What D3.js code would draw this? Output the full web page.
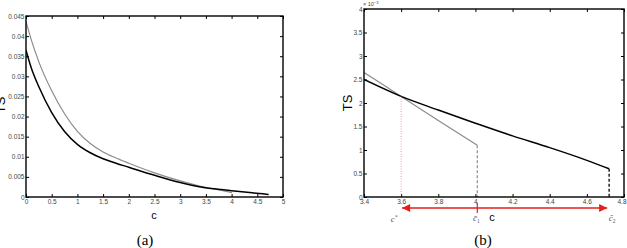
<!DOCTYPE html>
<html>
<head>
<meta charset="utf-8">
<script src="https://cdn.jsdelivr.net/npm/d3@7"></script>
<style>
  body { margin: 0; background: #fff; }
  svg { display: block; }
  .tick text { font-family: "Liberation Sans", Arial, sans-serif; font-size: 6.5px; fill: #444; }
  .tick line { stroke: #000; }
  .domain { stroke: none; }
</style>
</head>
<body>
<svg id="chart" width="627" height="248"></svg>
<script>
// series (TS against c)
const cBlack = [0, 0.1, 0.25, 0.5, 0.75, 1, 1.25, 1.5, 1.75, 2, 2.5, 3, 3.4, 3.6, 3.8, 4, 4.2, 4.4, 4.6, 4.72];
const tsBlack = [0.0365, 0.0322, 0.0274, 0.021, 0.0163, 0.0131, 0.011, 0.0095, 0.0084, 0.0074, 0.0054, 0.0036,
  0.0025, 0.00214, 0.00185, 0.00157, 0.0013, 0.00105, 0.00078, 0.0006];
const cGray = [0, 0.1, 0.25, 0.5, 0.75, 1, 1.25, 1.5, 1.75, 2, 2.5, 3, 3.4, 3.6, 3.8, 4.01];
const tsGray = [0.0436, 0.0392, 0.0336, 0.0264, 0.0207, 0.0163, 0.0133, 0.0112, 0.0097, 0.0084, 0.006, 0.004,
  0.00265, 0.00214, 0.00163, 0.0011];

const cStar = 3.6, cBar1 = 4.01, cHat2 = 4.72;

const xTicksA = [0, 0.5, 1, 1.5, 2, 2.5, 3, 3.5, 4, 4.5, 5];
const xLabelsA = ["0", "0.5", "1", "1.5", "2", "2.5", "3", "3.5", "4", "4.5", "5"];
const yTicksA = [0, 0.005, 0.01, 0.015, 0.02, 0.025, 0.03, 0.035, 0.04, 0.045];
const yLabelsA = ["0", "0.005", "0.01", "0.015", "0.02", "0.025", "0.03", "0.035", "0.04", "0.045"];
const xTicksB = [3.4, 3.6, 3.8, 4, 4.2, 4.4, 4.6, 4.8];
const xLabelsB = ["3.4", "3.6", "3.8", "4", "4.2", "4.4", "4.6", "4.8"];
const yTicksB = [0, 0.0005, 0.001, 0.0015, 0.002, 0.0025, 0.003, 0.0035, 0.004];
const yLabelsB = ["0", "0.5", "1", "1.5", "2", "2.5", "3", "3.5", "4"];

const svg = d3.select('#chart');
const pts = (cs, vs) => cs.map((c, i) => [c, vs[i]]);
const black = pts(cBlack, tsBlack);
const gray = pts(cGray, tsGray);

function panel(opts) {
  const { left, right, top, bottom, xDom, yDom, xTicks, xLabels, yTicks, yLabels } = opts;
  const x = d3.scaleLinear().domain(xDom).range([left, right]);
  const y = d3.scaleLinear().domain(yDom).range([bottom, top]);
  const g = svg.append('g');

  const xa = g.append('g').attr('transform', `translate(0,${bottom})`)
    .call(d3.axisBottom(x).tickValues(xTicks).tickFormat((d, i) => xLabels[i]).tickSize(-3).tickPadding(2));
  g.append('g').attr('transform', `translate(${left},0)`)
    .call(d3.axisLeft(y).tickValues(yTicks).tickFormat((d, i) => yLabels[i]).tickSize(-3).tickPadding(1.5));
  g.append('g').attr('transform', `translate(0,${top})`)
    .call(d3.axisTop(x).tickValues(xTicks).tickFormat('').tickSize(-3));
  g.append('g').attr('transform', `translate(${right},0)`)
    .call(d3.axisRight(y).tickValues(yTicks).tickFormat('').tickSize(-3));

  const clip = 'clip' + left;
  g.append('clipPath').attr('id', clip).append('rect')
    .attr('x', left).attr('y', top).attr('width', right - left).attr('height', bottom - top);
  const plot = g.append('g').attr('clip-path', `url(#${clip})`);
  return { x, y, g, xa, plot, left, right, top, bottom };
}

function box(p) {
  p.g.append('rect').attr('x', p.left).attr('y', p.top)
    .attr('width', p.right - p.left).attr('height', p.bottom - p.top)
    .attr('fill', 'none').attr('stroke', '#000').attr('stroke-width', 1.4);
}

function curves(p, data) {
  const line = d3.line().x(d => p.x(d[0])).y(d => p.y(d[1])).curve(d3.curveMonotoneX);
  p.plot.append('path').datum(data.gray).attr('d', line)
    .attr('fill', 'none').attr('stroke', '#8c8c8c').attr('stroke-width', 1.2);
  p.plot.append('path').datum(data.black).attr('d', line)
    .attr('fill', 'none').attr('stroke', '#000').attr('stroke-width', 1.5);
}

// ----- panel (a)
const pa = panel({ left: 26, right: 283, top: 16, bottom: 197, xDom: [0, 5], yDom: [0, 0.045],
  xTicks: xTicksA, xLabels: xLabelsA, yTicks: yTicksA, yLabels: yLabelsA });
curves(pa, { black, gray });
box(pa);

svg.append('text').attr('x', 154).attr('y', 219).attr('text-anchor', 'middle')
  .attr('font-family', 'Liberation Sans, Arial, sans-serif').attr('font-size', 11).text('c');
svg.append('text').attr('transform', 'translate(5,105) rotate(-90)').attr('text-anchor', 'middle')
  .attr('font-family', 'Liberation Sans, Arial, sans-serif').attr('font-size', 13).text('TS');
svg.append('text').attr('x', 145).attr('y', 245).attr('text-anchor', 'middle')
  .attr('font-family', 'Liberation Serif, Times New Roman, serif').attr('font-size', 15).text('(a)');

// ----- panel (b)
const pb = panel({ left: 364, right: 624, top: 9, bottom: 197, xDom: [3.4, 4.8], yDom: [0, 0.004],
  xTicks: xTicksB, xLabels: xLabelsB, yTicks: yTicksB, yLabels: yLabelsB });
const inB = d => d[0] >= 3.4;
curves(pb, { black: black.filter(inB), gray: gray.filter(inB) });
// keep the last tick label inside the window
pb.xa.selectAll('.tick text').filter((d, i, n) => i === n.length - 1).attr('x', -2.5);

const lastG = gray[gray.length - 1], lastB = black[black.length - 1];
pb.plot.append('line').attr('x1', pb.x(cStar)).attr('x2', pb.x(cStar))
  .attr('y1', pb.y(0)).attr('y2', pb.y(tsBlack[cBlack.indexOf(cStar)]))
  .attr('stroke', '#f08080').attr('stroke-width', 0.8).attr('stroke-dasharray', '1,1.5');
pb.plot.append('line').attr('x1', pb.x(lastG[0])).attr('x2', pb.x(lastG[0]))
  .attr('y1', pb.y(lastG[1])).attr('y2', pb.y(0))
  .attr('stroke', '#8c8c8c').attr('stroke-width', 1.2).attr('stroke-dasharray', '3,2');
pb.plot.append('line').attr('x1', pb.x(lastB[0])).attr('x2', pb.x(lastB[0]))
  .attr('y1', pb.y(lastB[1])).attr('y2', pb.y(0))
  .attr('stroke', '#333').attr('stroke-width', 1.6).attr('stroke-dasharray', '3,2');
box(pb);

// x10^-3 multiplier
const mult = svg.append('text').attr('x', 363).attr('y', 6)
  .attr('font-family', 'Liberation Sans, Arial, sans-serif').attr('font-size', 5.5).attr('fill', '#444');
mult.append('tspan').text('× 10');
mult.append('tspan').attr('dy', -2).attr('font-size', 4).text('−3');

svg.append('text').attr('x', 492).attr('y', 221).attr('text-anchor', 'middle')
  .attr('font-family', 'Liberation Sans, Arial, sans-serif').attr('font-size', 11).text('c');
svg.append('text').attr('transform', 'translate(352,103) rotate(-90)').attr('text-anchor', 'middle')
  .attr('font-family', 'Liberation Sans, Arial, sans-serif').attr('font-size', 13).text('TS');
svg.append('text').attr('x', 483).attr('y', 245).attr('text-anchor', 'middle')
  .attr('font-family', 'Liberation Serif, Times New Roman, serif').attr('font-size', 15).text('(b)');

// red range arrow under the axis
const defs = svg.append('defs');
defs.append('marker').attr('id', 'ah').attr('viewBox', '0 0 10 10').attr('refX', 10).attr('refY', 5)
  .attr('markerWidth', 9).attr('markerHeight', 8).attr('markerUnits', 'userSpaceOnUse').attr('orient', 'auto-start-reverse')
  .append('path').attr('d', 'M0,0 L10,5 L0,10 z').attr('fill', '#e3201b');
const ay = 208;
svg.append('line').attr('x1', pb.x(cStar) + 1).attr('x2', pb.x(cHat2) - 2).attr('y1', ay).attr('y2', ay)
  .attr('stroke', '#e3201b').attr('stroke-width', 1.5)
  .attr('marker-start', 'url(#ah)').attr('marker-end', 'url(#ah)');
svg.append('line').attr('x1', pb.x(cBar1)).attr('x2', pb.x(cBar1)).attr('y1', ay - 5).attr('y2', ay + 5)
  .attr('stroke', '#e3201b').attr('stroke-width', 1.2);

const labFont = 'Liberation Serif, Times New Roman, serif';
const l1 = svg.append('text').attr('x', pb.x(cStar) - 7).attr('y', 222).attr('text-anchor', 'middle')
  .attr('font-family', labFont).attr('font-style', 'italic').attr('font-size', 9).attr('fill', '#555');
l1.append('tspan').text('c');
l1.append('tspan').attr('dy', -3).attr('font-size', 5.5).text('*');
const l2 = svg.append('text').attr('x', pb.x(cBar1) - 1).attr('y', 221).attr('text-anchor', 'middle')
  .attr('font-family', labFont).attr('font-style', 'italic').attr('font-size', 9).attr('fill', '#555');
l2.append('tspan').text('c\u0304');
l2.append('tspan').attr('dy', 2).attr('font-size', 5.5).attr('font-style', 'normal').text('1');
const l3 = svg.append('text').attr('x', pb.x(cHat2) + 3).attr('y', 221).attr('text-anchor', 'middle')
  .attr('font-family', labFont).attr('font-style', 'italic').attr('font-size', 9).attr('fill', '#555');
l3.append('tspan').text('c\u0302');
l3.append('tspan').attr('dy', 2).attr('font-size', 5.5).attr('font-style', 'normal').text('2');
</script>
</body>
</html>
